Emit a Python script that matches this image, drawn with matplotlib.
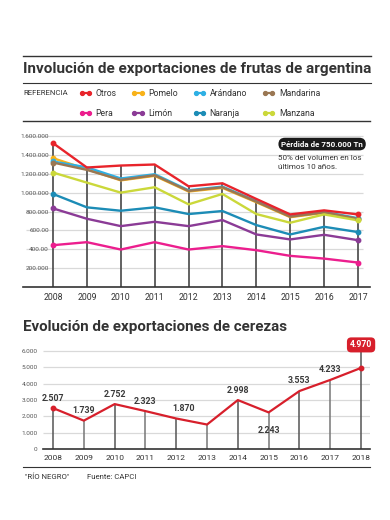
import numpy as np
import matplotlib.pyplot as plt
from matplotlib.lines import Line2D

plt.rcParams['font.family'] = ['Roboto', 'DejaVu Sans']

# ---- frutas (toneladas) ----
years = [2008, 2009, 2010, 2011, 2012, 2013, 2014, 2015, 2016, 2017]
otros = [1525000, 1266000, 1287000, 1298000, 1067000, 1099000, 933000, 769000, 812000, 769000]
pomelo = [1365000, 1248000, 1130000, 1178000, 1012000, 1050000, 898000, 740000, 786000, 718000]
arandano = [1330000, 1268000, 1150000, 1195000, 1025000, 1064000, 911000, 752000, 797000, 729000]
mandarina = [1319000, 1241000, 1135000, 1184000, 1018000, 1057000, 904000, 745000, 791000, 723000]
manzana = [1213000, 1106000, 1000000, 1057000, 876000, 986000, 773000, 681000, 769000, 706000]
naranja = [986000, 844000, 808000, 844000, 773000, 805000, 656000, 557000, 638000, 582000]
limon = [833000, 723000, 645000, 691000, 645000, 709000, 557000, 504000, 553000, 496000]
pera = [443000, 475000, 397000, 475000, 397000, 433000, 390000, 330000, 301000, 259000]

yticks_top = [200000, 400000, 600000, 800000, 1000000, 1200000, 1400000, 1600000]
ytick_labels_top = ["200.000", "400.00", "600.00", "800.000", "1.000.000",
                    "1.200.000", "1.400.000", "1.600.000"]

# ---- cerezas ----
cer_years = [2008, 2009, 2010, 2011, 2012, 2013, 2014, 2015, 2016, 2017, 2018]
cer_values = [2507, 1739, 2752, 2323, 1870, 1500, 2998, 2243, 3553, 4233, 4970]
cer_labels = ["2.507", "1.739", "2.752", "2.323", "1.870", "", "2.998", "2.243",
              "3.553", "4.233", "4.970"]
yticks_bot = [0, 1000, 2000, 3000, 4000, 5000, 6000]
ytick_labels_bot = ["0", "1.000", "2.000", "3.000", "4.000", "5.000", "6.000"]

series = [
    ("Otros", otros, "#e8242b"),
    ("Pomelo", pomelo, "#f8b219"),
    ("Arándano", arandano, "#2eb0e4"),
    ("Mandarina", mandarina, "#9a7753"),
    ("Pera", pera, "#ec1e8e"),
    ("Limón", limon, "#8b3b96"),
    ("Naranja", naranja, "#1c8cb6"),
    ("Manzana", manzana, "#cbd83a"),
]
draw_order = ["Pomelo", "Arándano", "Mandarina", "Manzana", "Naranja", "Limón", "Pera", "Otros"]
dark = "#333333"

fig = plt.figure(figsize=(3.9, 5.2), dpi=100)

# decoration layer in pixel coords
deco = fig.add_axes([0, 0, 1, 1])
deco.set_xlim(0, 390)
deco.set_ylim(520, 0)
deco.axis("off")
deco.plot([23, 371], [56, 56], color=dark, lw=1.0)
deco.plot([23, 371], [83, 83], color=dark, lw=0.8)
deco.plot([23, 370], [467, 467], color=dark, lw=0.8)
deco.text(23, 69, "Involución de exportaciones de frutas de argentina", fontsize=11,
          fontweight="bold", color=dark, va="center", ha="left")
deco.text(23, 327, "Evolución de exportaciones de cerezas", fontsize=10.9,
          fontweight="bold", color=dark, va="center", ha="left")
deco.text(23, 93, "REFERENCIA", fontsize=5.6, color=dark, va="center", ha="left")
deco.text(25, 477, "\"RÍO NEGRO\"", fontsize=5.6, color=dark, va="center", ha="left")
deco.text(87, 477, "Fuente: CAPCI", fontsize=5.6, color=dark, va="center", ha="left")

# ---- top chart ----
ax = fig.add_axes([23 / 390, 1 - 287 / 520, 347 / 390, 166 / 520])
ax.set_xlim(2007.115, 2017.354)
ax.set_ylim(0, 1759000)
ax.hlines(yticks_top, 2007.2, 2017.15, color="#d9d9d9", lw=0.9, zorder=0)
tops = np.max([s[1] for s in series], axis=0)
ax.vlines(years, 0, tops, color="#555555", lw=1.3, zorder=1)

handles = {}
for name in draw_order:
    vals, col = [(s[1], s[2]) for s in series if s[0] == name][0]
    ax.plot(years, vals, color=col, lw=1.7, zorder=2, solid_joinstyle="miter")
    ax.plot([years[0], years[-1]], [vals[0], vals[-1]], "o", color=col, ms=3.2, zorder=3)
for name, vals, col in series:
    handles[name] = Line2D([], [], color=col, lw=1.6, marker="o", ms=2.8)

ax.set_xticks(years)
ax.set_xticklabels([str(y) for y in years], fontsize=6.3, color=dark)
ax.set_yticks(yticks_top)
ax.set_yticklabels(ytick_labels_top, fontsize=4.6, color="#555555")
ax.tick_params(axis="both", length=0)
ax.tick_params(axis="x", pad=4)
ax.tick_params(axis="y", pad=-18.7)
for sp in ["left", "right"]:
    ax.spines[sp].set_visible(False)
ax.spines["top"].set_color(dark)
ax.spines["top"].set_linewidth(1.0)
ax.spines["bottom"].set_color(dark)
ax.spines["bottom"].set_linewidth(1.2)
ax.patch.set_alpha(0)

ax.text(0.862, 0.861, "Pérdida de 750.000 Tn", transform=ax.transAxes, fontsize=5.8,
        fontweight="bold", color="white", ha="center", va="center",
        bbox=dict(boxstyle="round,pad=0.35,rounding_size=0.8", fc="#1a1a1a", ec="none"))
ax.text(0.735, 0.795, "50% del volumen en los\núltimos 10 años.", transform=ax.transAxes,
        fontsize=5.8, color=dark, ha="left", va="top", linespacing=1.5)

order = ["Otros", "Pera", "Pomelo", "Limón", "Arándano", "Naranja", "Mandarina", "Manzana"]
fig.legend([handles[n] for n in order], order, loc="upper left",
           bbox_to_anchor=(79 / 390, 1 - 89 / 520), ncol=4, frameon=False, fontsize=6.2,
           numpoints=2, handlelength=1.45, handletextpad=0.45, columnspacing=1.8,
           labelspacing=1.25, borderpad=0, borderaxespad=0, labelcolor=dark)

# ---- bottom chart ----
bx = fig.add_axes([43 / 390, 1 - 449 / 520, 327 / 390, 109 / 520])
bx.set_xlim(2007.675, 2018.29)
bx.set_ylim(0, 6680)
bx.hlines(yticks_bot[1:], 2007.675, 2018.29, color="#d9d9d9", lw=0.9, zorder=0)
vcols = ["#555555", "#777777"]
for i, (yr, v) in enumerate(zip(cer_years, cer_values)):
    top = v if i < len(cer_years) - 1 else 6250
    bx.vlines(yr, 0, top, color=vcols[i % 2], lw=1.1, zorder=1)
bx.plot(cer_years, cer_values, color="#d71f2b", lw=1.6, zorder=2)
bx.plot([cer_years[0], cer_years[-1]], [cer_values[0], cer_values[-1]], "o",
        color="#d71f2b", ms=3.2, zorder=3)
for i, (yr, v, lab) in enumerate(zip(cer_years, cer_values, cer_labels)):
    if not lab:
        continue
    if i == len(cer_years) - 1:
        bx.text(yr, 6380, lab, fontsize=6.2, fontweight="bold", color="white",
                ha="center", va="center", clip_on=False,
                bbox=dict(boxstyle="round,pad=0.35,rounding_size=0.5", fc="#d71f2b", ec="none"))
        continue
    dy = -10 if lab == "2.243" else 4
    dx = 5 if lab == "1.870" else 0
    bx.annotate(lab, (yr, v), xytext=(dx, dy), textcoords="offset points",
                fontsize=6.3, fontweight="bold", color="#3a3a3a", ha="center",
                va="bottom" if dy > 0 else "top")

bx.set_xticks(cer_years)
bx.set_xticklabels([str(y) for y in cer_years], fontsize=6.0, color=dark)
bx.set_yticks(yticks_bot)
bx.set_yticklabels(ytick_labels_bot, fontsize=4.6, color="#555555")
bx.tick_params(axis="both", length=0)
bx.tick_params(axis="x", pad=4)
bx.tick_params(axis="y", pad=4)
for sp in ["left", "right", "top"]:
    bx.spines[sp].set_visible(False)
bx.spines["bottom"].set_color(dark)
bx.spines["bottom"].set_linewidth(1.2)
bx.patch.set_alpha(0)

fig.savefig("out.png", dpi=100)
